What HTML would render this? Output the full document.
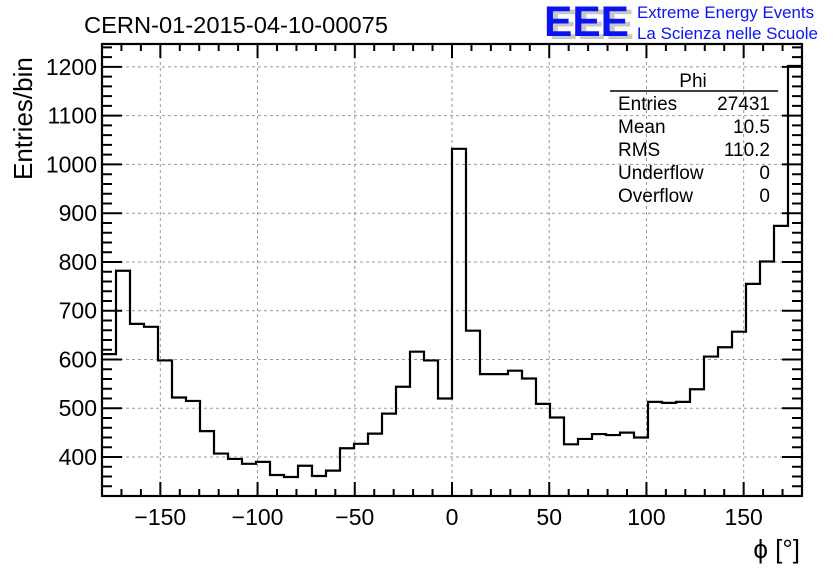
<!DOCTYPE html>
<html><head><meta charset="utf-8"><style>
body{margin:0;background:#fff;}
svg{display:block;font-family:"Liberation Sans",Arial,sans-serif;}
</style></head><body>
<svg id="chart" width="836" height="572" viewBox="0 0 836 572" xmlns="http://www.w3.org/2000/svg">
<rect width="836" height="572" fill="#fff"/>
<g id="grid"></g>
<g id="ticks"></g>
<path id="hist" fill="none" stroke="#000" stroke-width="2.2"/>
<rect x="102" y="44" width="700" height="452" fill="none" stroke="#000" stroke-width="2.2"/>
<g id="labels" font-size="23" fill="#000"></g>
<text x="84" y="33" font-size="23.5" textLength="304" lengthAdjust="spacingAndGlyphs">CERN-01-2015-04-10-00075</text>
<text transform="translate(32,180) rotate(-90)" font-size="26">Entries/bin</text>
<text x="800" y="558" font-size="26" text-anchor="end">ϕ [°]</text>
<g>
<text x="549" y="39" font-size="43" font-weight="bold" fill="#c8c8c8" textLength="85" lengthAdjust="spacingAndGlyphs">EEE</text>
<text x="544" y="36" font-size="43" font-weight="bold" fill="#0a14f0" textLength="85" lengthAdjust="spacingAndGlyphs">EEE</text>
<text x="637" y="18" font-size="16.5" fill="#0a14f0" textLength="177" lengthAdjust="spacingAndGlyphs">Extreme Energy Events</text>
<text x="637" y="39" font-size="16.5" fill="#0a14f0" textLength="181" lengthAdjust="spacingAndGlyphs">La Scienza nelle Scuole</text>
</g>
<g font-size="19" fill="#000">
<text x="693" y="87" text-anchor="middle">Phi</text>
<line x1="610" y1="91" x2="778" y2="91" stroke="#000" stroke-width="1.5"/>
<text x="618" y="110">Entries</text><text x="770" y="110" text-anchor="end">27431</text>
<text x="618" y="133">Mean</text><text x="770" y="133" text-anchor="end">10.5</text>
<text x="618" y="156">RMS</text><text x="770" y="156" text-anchor="end">110.2</text>
<text x="618" y="179">Underflow</text><text x="770" y="179" text-anchor="end">0</text>
<text x="618" y="202">Overflow</text><text x="770" y="202" text-anchor="end">0</text>
</g>
</svg>
<script>
const counts = [611,782,673,667,598,522,515,453,407,396,386,390,363,359,382,361,372,418,427,448,489,544,616,598,520,1032,659,570,570,577,561,509,481,426,437,447,445,450,440,513,511,513,539,606,625,657,755,801,874,1202];
const xTickValues = [-150,-100,-50,0,50,100,150];
const xTickLabels = ["\u2212150","\u2212100","\u221250","0","50","100","150"];
const yTickValues = [400,500,600,700,800,900,1000,1100,1200];
const yTickLabels = ["400","500","600","700","800","900","1000","1100","1200"];
const X0=102,X1=802,Y0=496,Y1=44,XMIN=-180,XMAX=180,YMIN=320,YMAX=1247;
const sx=v=>X0+(v-XMIN)/(XMAX-XMIN)*(X1-X0);
const sy=v=>Y0-(v-YMIN)/(YMAX-YMIN)*(Y0-Y1);
const NS="http://www.w3.org/2000/svg";
function mk(tag,attrs,parent){const e=document.createElementNS(NS,tag);for(const k in attrs)e.setAttribute(k,attrs[k]);parent.appendChild(e);return e;}
const grid=document.getElementById('grid'),ticks=document.getElementById('ticks'),labels=document.getElementById('labels');
xTickValues.forEach((v,i)=>{
  const l=mk('line',{x1:sx(v),x2:sx(v),y1:Y1,y2:Y0,stroke:'#999','stroke-dasharray':'3,3','stroke-width':1},grid);
  
  
  const t=mk('text',{x:sx(v),y:525,'text-anchor':'middle'},labels);
  t.textContent=xTickLabels[i];
  
  
});
yTickValues.forEach((v,i)=>{
  const l=mk('line',{x1:X0,x2:X1,y1:sy(v),y2:sy(v),stroke:'#999','stroke-dasharray':'3,3','stroke-width':1},grid);
  
  
  const t=mk('text',{x:97,y:sy(v)+8,'text-anchor':'end'},labels);
  t.textContent=yTickLabels[i];
  
  
});
let d='';
for(let v=-180;v<=180;v+=10){const major=v%50===0;const len=major?14:7;const x=sx(v);
  d+=`M${x},${Y0}v${-len}M${x},${Y1}v${len}`;}
for(let v=320;v<=1240;v+=20){const major=v%100===0;const len=major?20:10;const y=sy(v);
  d+=`M${X0},${y}h${len}M${X1},${y}h${-len}`;}
const tk=mk('path',{d:d,stroke:'#000','stroke-width':2,fill:'none'},ticks);


const bw=(XMAX-XMIN)/counts.length;
let p=`M${sx(XMIN)},${sy(counts[0])}`;
counts.forEach((c,i)=>{const a=XMIN+i*bw,b=a+bw;p+=`L${sx(a)},${sy(c)}L${sx(b)},${sy(c)}`;});
document.getElementById('hist').setAttribute('d',p);
</script>
</body></html>
